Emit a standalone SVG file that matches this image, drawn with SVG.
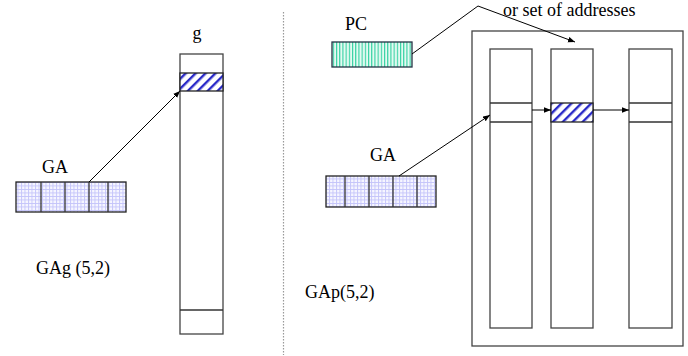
<svg xmlns="http://www.w3.org/2000/svg" width="688" height="356" viewBox="0 0 688 356">
<defs>
<pattern id="grid" width="3.5" height="3.5" patternUnits="userSpaceOnUse">
<rect width="3.5" height="3.5" fill="#f6f6ff"/>
<path d="M0 0.5H3.5M0.5 0V3.5" stroke="#c4c4fa" stroke-width="0.9"/>
</pattern>
<pattern id="stripe" width="3.2" height="10" patternUnits="userSpaceOnUse">
<rect width="3.2" height="10" fill="#e4faf2"/>
<rect x="0" width="1.1" height="10" fill="#30d0a0"/>
</pattern>
<pattern id="hatch" width="7" height="7" patternUnits="userSpaceOnUse" patternTransform="rotate(45)">
<rect width="7" height="7" fill="#fff"/>
<rect width="2.4" height="7" fill="#2b2bc8"/>
</pattern>
<marker id="ah" viewBox="0 0 10 10" refX="10" refY="5" markerWidth="7" markerHeight="7" orient="auto" markerUnits="userSpaceOnUse">
<path d="M0 1L10 5L0 9Z" fill="#000"/>
</marker>
</defs>
<style>
.t{font-family:"Liberation Serif","DejaVu Serif",serif;font-size:18px;fill:#000}
.box{fill:#fff;stroke:#444;stroke-width:1.3}
.ln{stroke:#333;stroke-width:1.3;fill:none}
.cn{stroke:#000;stroke-width:1;fill:none}
</style>
<rect width="688" height="356" fill="#fff"/>
<line x1="283.5" y1="12" x2="283.5" y2="355" stroke="#999" stroke-width="1.2" stroke-dasharray="1.5 1.5"/>

<g id="left-ga">
<text class="t" x="42" y="173">GA</text>
<rect x="16" y="182" width="110" height="30" fill="url(#grid)" stroke="#222" stroke-width="1.3"/>
<path class="ln" d="M41 182V212M65 182V212M89 182V212M108 182V212"/>
</g>

<g id="left-table">
<text class="t" x="197" y="39" text-anchor="middle">g</text>
<rect class="box" x="180" y="54" width="43" height="280"/>
<rect x="180" y="73" width="43" height="18" fill="url(#hatch)" stroke="#222" stroke-width="1.3"/>
<path class="ln" d="M180 310H223"/>
</g>

<text id="label-gag" class="t" x="36" y="274">GAg (5,2)</text>

<g id="pc">
<text class="t" x="345" y="30">PC</text>
<rect x="332" y="42" width="80" height="25" fill="url(#stripe)" stroke="#234" stroke-width="1.3"/>
</g>

<text id="label-or" class="t" x="503" y="16">or set of addresses</text>

<g id="right-ga">
<text class="t" x="370" y="161">GA</text>
<rect x="326" y="176" width="110" height="31" fill="url(#grid)" stroke="#222" stroke-width="1.3"/>
<path class="ln" d="M345 176V207M369 176V207M393 176V207M417 176V207"/>
</g>

<g id="outer-box">
<rect class="box" x="472" y="31" width="211" height="315"/>
</g>
<g id="col1">
<rect class="box" x="490" y="49" width="42" height="279"/>
<path class="ln" d="M490 103H532M490 122H532"/>
</g>
<g id="col2">
<rect class="box" x="551" y="49" width="42" height="279"/>
<rect x="551" y="103" width="42" height="19" fill="url(#hatch)" stroke="#222" stroke-width="1.3"/>
</g>
<g id="col3">
<rect class="box" x="629" y="49" width="43" height="279"/>
<path class="ln" d="M629 103H672M629 122H672"/>
</g>

<text id="label-gap" class="t" x="305" y="298">GAp(5,2)</text>

<g id="connectors">
<path class="cn" d="M89 182L180 91" marker-end="url(#ah)"/>
<path class="cn" d="M412 54L478 6L575 42" marker-end="url(#ah)"/>
<path class="cn" d="M399 176L490 115" marker-end="url(#ah)"/>
<path class="cn" d="M532 110H551" marker-end="url(#ah)"/>
<path class="cn" d="M593 110H629" marker-end="url(#ah)"/>
</g>
</svg>
